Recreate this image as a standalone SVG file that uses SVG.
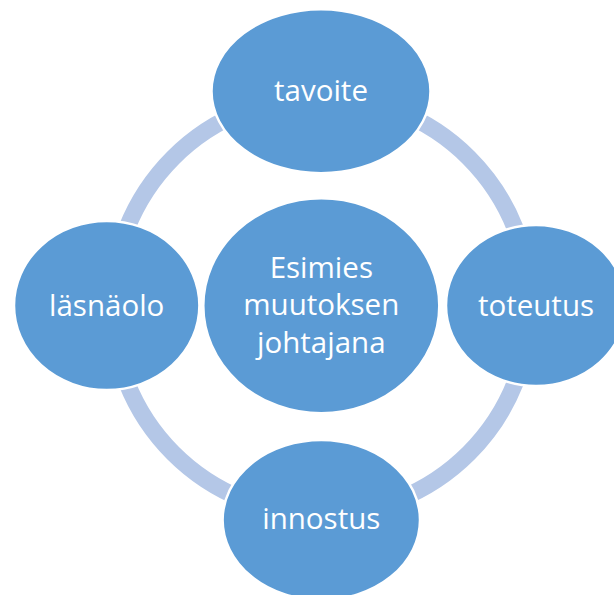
<svg xmlns="http://www.w3.org/2000/svg" width="614" height="595" viewBox="0 0 614 595">
<style>
.node{fill:#5B9BD5;stroke:#FFFFFF;stroke-width:2.5}
.lbl{fill:#FFFFFF;font-family:"Open Sans","Noto Sans","Liberation Sans",sans-serif;font-size:29.5px;text-anchor:middle}
.ring{fill:none;stroke:#B4C7E7;stroke-width:17}
</style>
<rect width="614" height="595" fill="#FFFFFF"/>
<g id="connectors">
<circle class="ring" cx="321" cy="305.5" r="209"/>
</g>
<g id="node-tavoite">
<ellipse class="node" cx="321" cy="91.3" rx="109.5" ry="82"/>
<text class="lbl" x="321" y="100.7">tavoite</text>
</g>
<g id="node-toteutus">
<ellipse class="node" cx="536" cy="305.5" rx="90" ry="80.5"/>
<text class="lbl" x="536" y="316">toteutus</text>
</g>
<g id="node-innostus">
<ellipse class="node" cx="321.3" cy="520" rx="98.7" ry="80"/>
<text class="lbl" x="321.3" y="529.3">innostus</text>
</g>
<g id="node-lasnaolo">
<ellipse class="node" cx="106.7" cy="305.5" rx="92.7" ry="84.5"/>
<text class="lbl" x="106.7" y="316">läsnäolo</text>
</g>
<g id="node-center">
<ellipse class="node" cx="321.3" cy="305.8" rx="118" ry="107.5"/>
<text class="lbl" x="321.3" y="277.7">Esimies</text>
<text class="lbl" x="321.3" y="315.3">muutoksen</text>
<text class="lbl" x="321.3" y="352.6">johtajana</text>
</g>
</svg>
